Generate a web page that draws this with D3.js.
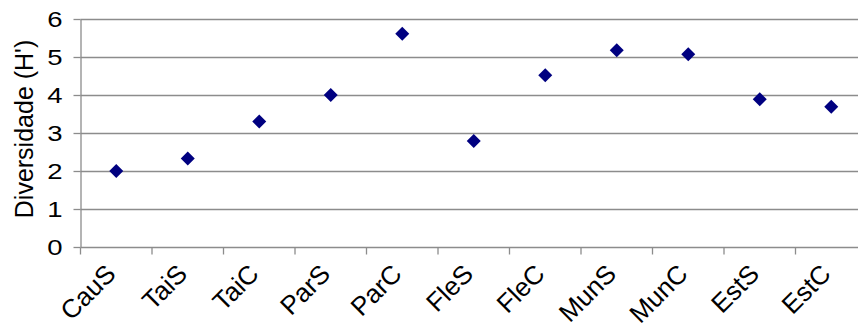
<!DOCTYPE html>
<html><head><meta charset="utf-8">
<script src="https://cdn.jsdelivr.net/npm/d3@7"></script>
<style>body{margin:0;background:#fff}svg{display:block}text{font-family:"Liberation Sans",Arial,sans-serif}</style>
</head><body>
<svg id="c" width="858" height="324"></svg>
<script>
const categories = ["CauS","TaiS","TaiC","ParS","ParC","FleS","FleC","MunS","MunC","EstS","EstC"];
const values = [2.0, 2.33, 3.30, 4.0, 5.61, 2.79, 4.52, 5.18, 5.07, 3.89, 3.69];
const yTicks = [0,1,2,3,4,5,6];
const yTitle = "Diversidade (H')";

const svg = d3.select("#c");
const mLeft = 80.5, mRight = 867, mTop = 19, mBottom = 247;
const x = d3.scaleBand().domain(categories).range([mLeft, mRight]);
const y = d3.scaleLinear().domain([0,6]).range([mBottom, mTop]);

// gridlines
svg.append("g").selectAll("line").data(yTicks.filter(d=>d>0)).join("line")
  .attr("x1", mLeft).attr("x2", 858).attr("y1", d=>Math.round(y(d))+0.5).attr("y2", d=>Math.round(y(d))+0.5)
  .attr("stroke", "#8c8c8c").attr("stroke-width", 1.3);

// y axis
const ya = svg.append("g").attr("transform", `translate(${mLeft},0)`)
  .call(d3.axisLeft(y).tickValues(yTicks).tickFormat(d3.format("d")).tickSize(7).tickPadding(0).tickSizeOuter(0));
ya.attr("font-family", '"Liberation Sans",Arial,sans-serif');
ya.select(".domain").attr("stroke", "#8c8c8c").attr("stroke-width", 1.3);
ya.selectAll(".tick line").attr("stroke", "#8c8c8c").attr("stroke-width", 1.3);
ya.selectAll(".tick text").attr("font-size", 22).attr("fill", "#000")
  .attr("x", null).attr("transform", "translate(-18,0) scale(1.25,1)");
ya.selectAll(".tick").attr("transform", d=>`translate(0,${Math.round(y(d))+0.5})`);

// x axis
const xa = svg.append("g").attr("transform", `translate(0,${mBottom+0.5})`);
xa.append("line").attr("x1", mLeft).attr("x2", 858).attr("stroke", "#8c8c8c").attr("stroke-width", 1.3);
xa.selectAll("line.tk").data(categories).join("line").attr("class","tk")
  .attr("x1", d=>x(d)).attr("x2", d=>x(d)).attr("y1", 0).attr("y2", 7)
  .attr("stroke", "#8c8c8c").attr("stroke-width", 1.3);
xa.selectAll("text").data(categories).join("text")
  .attr("transform", d=>`translate(${x(d)+x.bandwidth()/2-12},${15}) rotate(-45)`)
  .attr("text-anchor", "end").attr("dy", "0.71em").attr("font-size", 26).attr("fill", "#000")
  .text(d=>d);

// y title
svg.append("text").attr("transform", `translate(33,${(mTop+mBottom)/2 - 4}) rotate(-90)`)
  .attr("text-anchor", "middle").attr("font-size", 25).attr("fill", "#000").text(yTitle);

// points
const s = 7;
svg.append("g").selectAll("path").data(categories).join("path")
  .attr("transform", (d,i)=>`translate(${x(d)+x.bandwidth()/2},${y(values[i])})`)
  .attr("d", `M0,${-s}L${s},0L0,${s}L${-s},0Z`)
  .attr("fill", "#000080");
</script>
</body></html>
